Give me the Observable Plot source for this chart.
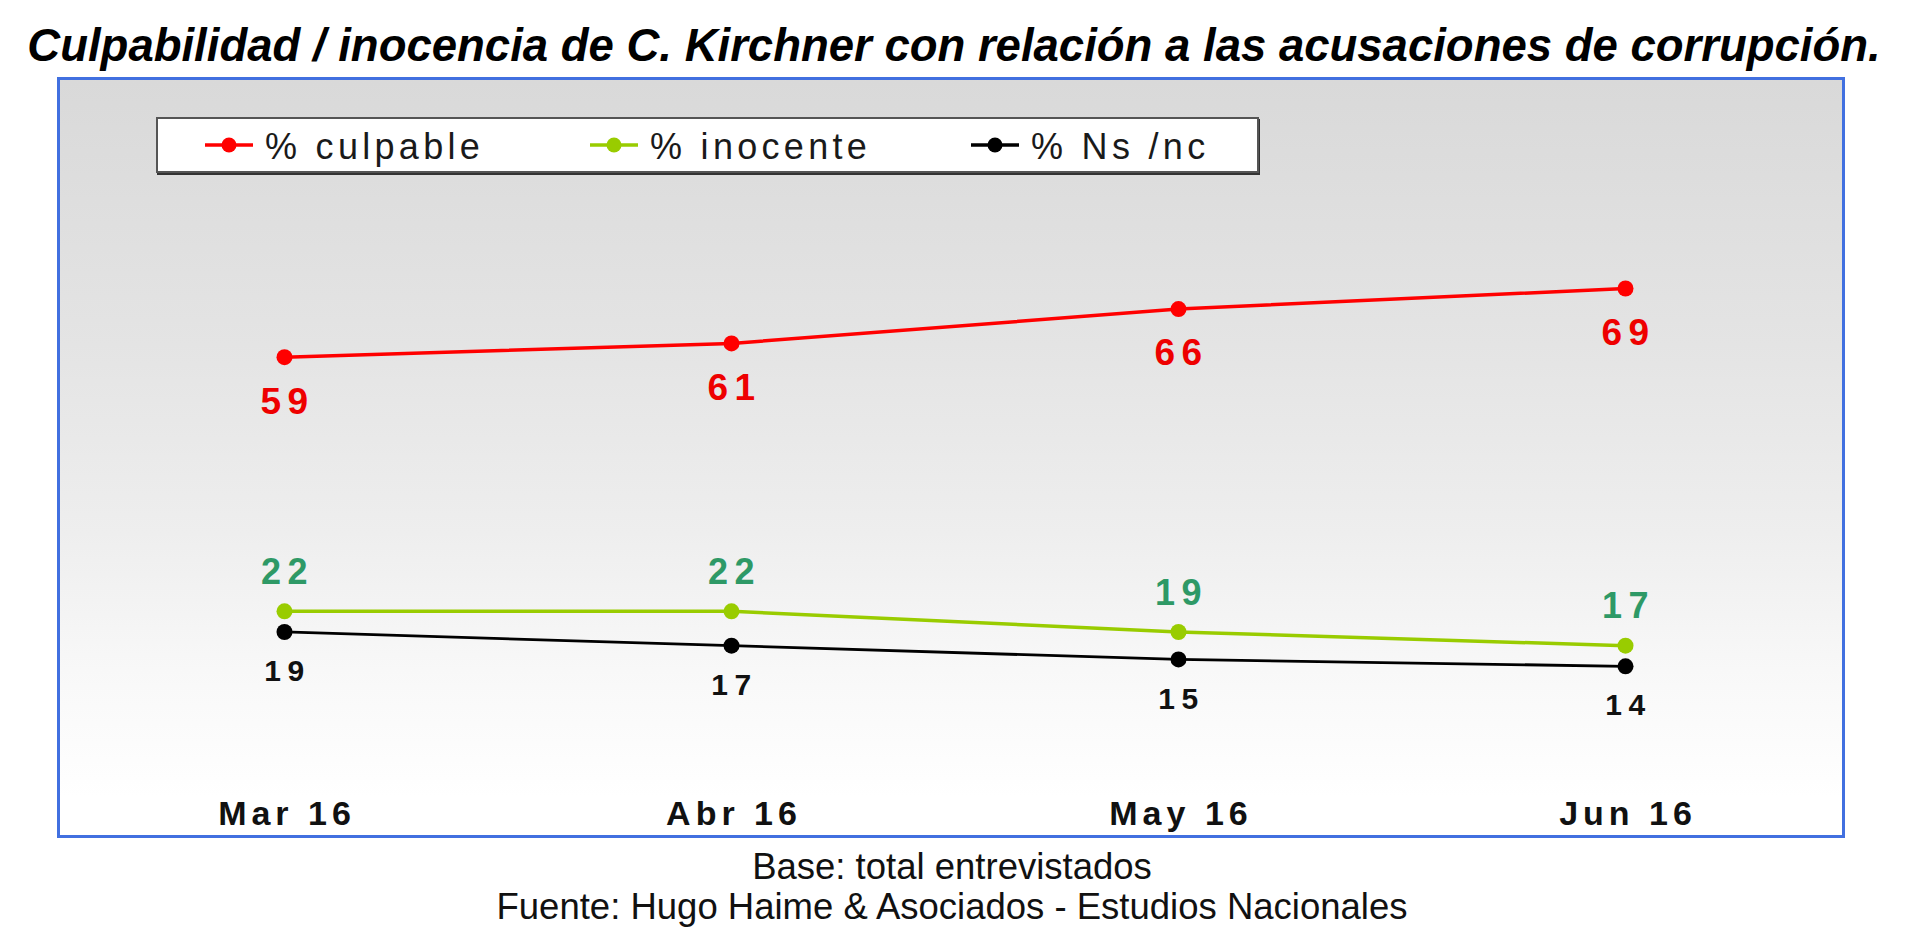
<!DOCTYPE html>
<html>
<head>
<meta charset="utf-8">
<script src="https://cdn.jsdelivr.net/npm/d3@7"></script>
<script src="https://cdn.jsdelivr.net/npm/@observablehq/plot@0.6"></script>
<style>
html, body { margin: 0; padding: 0; background: #fff; }
body { width: 1920px; height: 946px; position: relative; overflow: hidden; font-family: "Liberation Sans", Arial, sans-serif; }
#title { position: absolute; left: 0; top: 23px; width: 1908px; text-align: center; font-size: 45.5px; line-height: 45.5px; font-weight: bold; font-style: italic; color: #000; white-space: nowrap; }
#frame { position: absolute; left: 57px; top: 77px; width: 1788px; height: 761px; box-sizing: border-box; border: 3px solid #4170e0;
  background: linear-gradient(to bottom, #d9d9d9 0%, #e4e4e4 35%, #eeeeee 60%, #f8f8f8 78%, #ffffff 95%); }
#legendbox { position: absolute; left: 156px; top: 117px; width: 1103px; height: 56px; box-sizing: border-box; background: #fff; border: 2px solid #555; box-shadow: 1px 2px 0 #333; }
.lg-marker { position: absolute; top: 136px; width: 48px; height: 18px; }
.lg-text { position: absolute; top: 129px; font-size: 36px; line-height: 36px; letter-spacing: 4.3px; color: #1a1a1a; white-space: nowrap; }
#footer { position: absolute; left: 0; top: 847.4px; width: 1904px; text-align: center; font-size: 36.5px; line-height: 40px; color: #111; }
#chart svg g[aria-label="text"] text { letter-spacing: 6.5px; }
#chart svg g[aria-label="x-axis tick label"] text { letter-spacing: 5px; }
</style>
</head>
<body>
<div id="title">Culpabilidad / inocencia de C. Kirchner con relación a las acusaciones de corrupción.</div>
<div id="frame"></div>
<div id="chart"></div>
<div id="legendbox"></div>
<div id="legend"></div>
<div id="footer">Base: total entrevistados<br>Fuente: Hugo Haime &amp; Asociados - Estudios Nacionales</div>
<script>
// ---- data ----
const months = ["Mar 16", "Abr 16", "May 16", "Jun 16"];
const culpable = [59, 61, 66, 69];
const inocente = [22, 22, 19, 17];
const nsnc = [19, 17, 15, 14];
const seriesNames = ["% culpable", "% inocente", "% Ns /nc"];
const lineColors = ["#ff0000", "#99cc00", "#000000"];
const labelColors = ["#ee0000", "#2e9966", "#111111"];

const seriesValues = [culpable, inocente, nsnc];
const rows = seriesValues.flatMap((vals, i) =>
  vals.map((v, j) => ({month: months[j], value: v, series: seriesNames[i]})));
const bySeries = name => rows.filter(d => d.series === name);

const labelDy = [44.5, -39, 39.5];
const labelSize = [37, 36, 30];

const chart = Plot.plot({
  width: 1788,
  height: 763,
  marginTop: 0,
  marginBottom: 78,
  marginLeft: 0,
  marginRight: 0,
  style: {position: "absolute", left: "57px", top: "77px", overflow: "visible", background: "transparent",
          fontFamily: "'Liberation Sans', Arial, sans-serif"},
  x: {type: "point", domain: months, range: [227, 1568], padding: 0, axis: null},
  y: {domain: [0, 100], range: [685, -2], axis: null},
  color: {domain: seriesNames, range: lineColors},
  marks: [
    Plot.line(rows, {x: "month", y: "value", z: "series", stroke: "series",
      strokeWidth: d => d.series === "% Ns /nc" ? 2.8 : 3.5}),
    Plot.dot(rows, {x: "month", y: "value", fill: "series", r: 8}),
    ...seriesNames.map((name, i) => Plot.text(bySeries(name), {
      x: "month", y: "value", text: d => String(d.value),
      fill: labelColors[i], fontSize: labelSize[i], fontWeight: "bold",
      dy: labelDy[i], dx: 3, lineAnchor: "middle"
    })),
    Plot.axisX({tickSize: 0, tickPadding: 38, fontSize: 34, fontWeight: "bold", fill: "#111", dx: 2.5, label: null})
  ]
});
document.getElementById("chart").appendChild(chart);

// ---- legend (HTML overlay) ----
const legendMarkerLeft = [205, 590, 971];
const legendTextLeft = [265, 650, 1031];
const legend = document.getElementById("legend");
seriesNames.forEach((name, i) => {
  const m = document.createElementNS("http://www.w3.org/2000/svg", "svg");
  m.setAttribute("class", "lg-marker");
  m.setAttribute("width", 48); m.setAttribute("height", 18);
  m.style.left = legendMarkerLeft[i] + "px";
  m.innerHTML = `<line x1="0" x2="48" y1="9" y2="9" stroke="${lineColors[i]}" stroke-width="3.5"/><circle cx="24" cy="9" r="7.5" fill="${lineColors[i]}"/>`;
  legend.appendChild(m);
  const t = document.createElement("div");
  t.className = "lg-text";
  t.style.left = legendTextLeft[i] + "px";
  t.textContent = name;
  legend.appendChild(t);
});
</script>
</body>
</html>
